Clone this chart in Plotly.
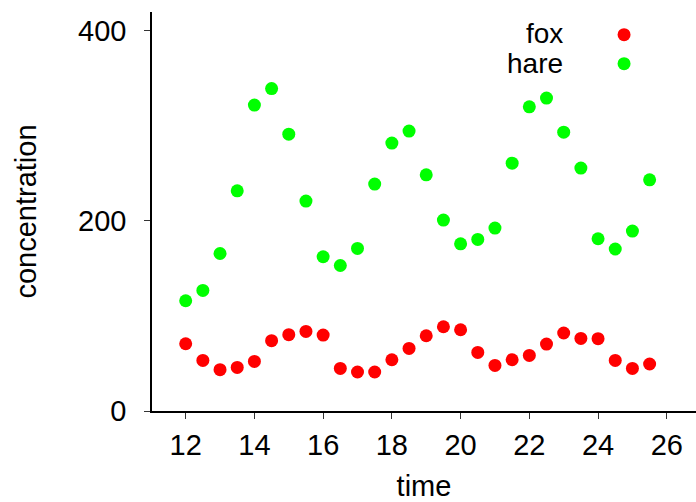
import plotly.graph_objects as go

time = [12, 12.5, 13, 13.5, 14, 14.5, 15, 15.5, 16, 16.5, 17, 17.5, 18, 18.5,
        19, 19.5, 20, 20.5, 21, 21.5, 22, 22.5, 23, 23.5, 24, 24.5, 25, 25.5]
fox = [70.7, 53.2, 43.4, 45.8, 52.1, 73.9, 80.2, 83.7, 79.8, 44.8, 41, 41, 53.9, 65.8,
       79.1, 88.6, 85.4, 61.6, 47.9, 53.9, 58.4, 70.4, 82, 76.3, 76, 53.2, 44.8, 49.4]
hare = [115.9, 126.8, 165.6, 231.5, 321.6, 339, 291.1, 220.7, 162.2, 153, 170.9, 238.6,
        281.7, 294.3, 248.3, 200.7, 175.8, 180.4, 192.3, 260.6, 319.8, 329, 293.2, 255.4,
        181.1, 170.3, 189.2, 243.1]
series_names = ["fox", "hare"]
series_colors = ["#ff0000", "#00ff00"]
x_ticks = [12, 14, 16, 18, 20, 22, 24, 26]
y_ticks = [0, 200, 400]

FONT = "Liberation Sans, Arial, sans-serif"

fig = go.Figure()
for name, vals, col in zip(series_names, [fox, hare], series_colors):
    fig.add_trace(go.Scatter(x=time, y=vals, mode="markers", name=" ",
                             marker=dict(color=col, size=13, line=dict(width=0)),
                             showlegend=True))

ann_y = [0.945, 0.872]
for name, yy in zip(series_names, ann_y):
    fig.add_annotation(text=name, xref="paper", yref="paper", x=0.759, y=yy,
                       xanchor="right", yanchor="middle", showarrow=False,
                       font=dict(family=FONT, size=28, color="black"))

axis_common = dict(showgrid=False, zeroline=False, showline=True, linecolor="black",
                   linewidth=1.5, ticks="outside", ticklen=6, tickwidth=1,
                   tickcolor="#333", tickfont=dict(family=FONT, size=29, color="black"),
                   mirror=False, automargin=False)

fig.update_layout(
    width=696, height=502,
    margin=dict(l=152, r=0, t=12, b=91),
    paper_bgcolor="white", plot_bgcolor="white",
    font=dict(family=FONT, size=28, color="black"),
    xaxis=dict(range=[11.02, 26.85], tickvals=x_ticks, ticklabelstandoff=1,
               title=dict(text="time", font=dict(family=FONT, size=29), standoff=32),
               **axis_common),
    yaxis=dict(range=[0, 419.5], tickvals=y_ticks, ticklabelstandoff=12,
               title=dict(text="concentration", font=dict(family=FONT, size=29), standoff=33),
               **axis_common),
    showlegend=True,
    legend=dict(x=0.831, y=0.992, xanchor="left", yanchor="top",
                font=dict(family=FONT, size=20), bgcolor="rgba(0,0,0,0)",
                tracegroupgap=0, itemwidth=30),
)

fig.write_html("out.html", config={"displayModeBar": False},
               post_script="document.body.style.margin='0';document.body.style.padding='0';")
